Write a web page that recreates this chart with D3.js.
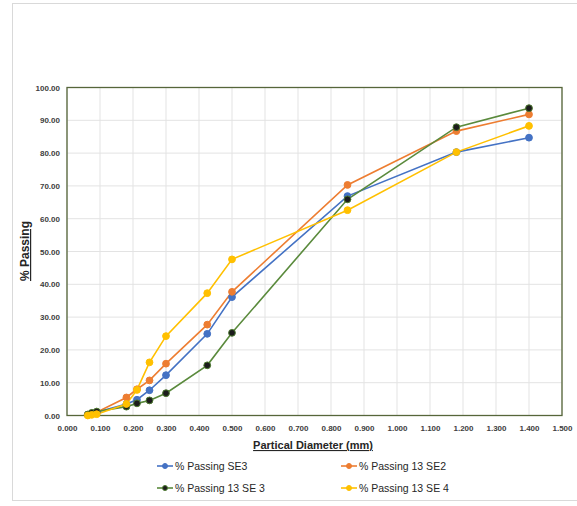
<!DOCTYPE html>
<html><head><meta charset="utf-8">
<script src="https://cdn.jsdelivr.net/npm/d3@7"></script>
<style>body{margin:0;background:#fff}svg{display:block}</style>
</head><body>
<script>
const sieveSizes = [0.063, 0.075, 0.09, 0.18, 0.212, 0.25, 0.3, 0.425, 0.5, 0.85, 1.18, 1.4];
const passingSE3 = [0.2, 0.6, 1.0, 3.5, 4.8, 7.7, 12.3, 24.9, 36.1, 66.9, 80.3, 84.7];
const passing13SE2 = [0.2, 0.6, 1.0, 5.5, 8.0, 10.7, 15.8, 27.7, 37.7, 70.3, 86.7, 91.8];
const passing13SE3 = [0.3, 0.8, 1.2, 2.7, 3.7, 4.6, 6.8, 15.3, 25.2, 65.9, 87.9, 93.7];
const passing13SE4 = [0.0, 0.2, 0.4, 3.5, 7.8, 16.2, 24.2, 37.3, 47.6, 62.6, 80.3, 88.3];
const seriesNames = ["% Passing SE3", "% Passing 13 SE2", "% Passing 13 SE 3", "% Passing 13 SE 4"];
const xTicks = [0, 0.1, 0.2, 0.3, 0.4, 0.5, 0.6, 0.7, 0.8, 0.9, 1.0, 1.1, 1.2, 1.3, 1.4, 1.5];
const yTicks = [0, 10, 20, 30, 40, 50, 60, 70, 80, 90, 100];

const W = 577, H = 506;
const svg = d3.select("body").append("svg").attr("width", W).attr("height", H);
svg.append("rect").attr("x", 12.5).attr("y", 3.5).attr("width", 600).attr("height", 497)
  .attr("fill", "#fff").attr("stroke", "#d9d9d9");

const x = d3.scaleLinear().domain([0, 1.5]).range([67, 562]);
const y = d3.scaleLinear().domain([0, 100]).range([415.5, 87.5]);

const series = [
  {name: seriesNames[0], vals: passingSE3, line: "#4472C4", fill: "#4472C4", stroke: "#4472C4"},
  {name: seriesNames[1], vals: passing13SE2, line: "#ED7D31", fill: "#ED7D31", stroke: "#ED7D31"},
  {name: seriesNames[2], vals: passing13SE3, line: "#5A8A3C", fill: "#1c1c1c", stroke: "#4d7a30"},
  {name: seriesNames[3], vals: passing13SE4, line: "#FFC000", fill: "#FFC000", stroke: "#FFC000"}
];

// gridlines
const g = svg.append("g");
g.selectAll(".vg").data(xTicks).join("line")
  .attr("x1", d => x(d)).attr("x2", d => x(d)).attr("y1", y(0)).attr("y2", y(100))
  .attr("stroke", "#e3e3e3").attr("stroke-width", 1);
g.selectAll(".hg").data(yTicks).join("line")
  .attr("y1", d => y(d)).attr("y2", d => y(d)).attr("x1", x(0)).attr("x2", x(1.5))
  .attr("stroke", "#e3e3e3").attr("stroke-width", 1);

// axes (labels only)
const fmtX = d3.format(".3f"), fmtY = d3.format(".2f");
const xAxis = svg.append("g").attr("transform", `translate(0,${y(0)})`)
  .call(d3.axisBottom(x).tickValues(xTicks).tickFormat(fmtX).tickSize(0).tickPadding(10));
const yAxis = svg.append("g").attr("transform", `translate(${x(0)},0)`)
  .call(d3.axisLeft(y).tickValues(yTicks).tickFormat(fmtY).tickSize(0).tickPadding(7));
[xAxis, yAxis].forEach(a => {
  a.select(".domain").remove();
  a.selectAll("text").attr("font-family", "Liberation Sans, Arial, sans-serif")
    .attr("font-size", "8px").attr("font-weight", "bold").attr("fill", "#404040");
});

// plot border
svg.append("rect").attr("x", x(0)).attr("y", y(100)).attr("width", x(1.5) - x(0)).attr("height", y(0) - y(100))
  .attr("fill", "none").attr("stroke", "#56663a").attr("stroke-width", 1.3);

// lines and markers
const line = d3.line().x((d, i) => x(sieveSizes[i])).y(d => y(d));
series.forEach(s => {
  svg.append("path").datum(s.vals).attr("d", line).attr("fill", "none")
    .attr("stroke", s.line).attr("stroke-width", 1.6);
});
series.forEach(s => {
  svg.append("g").selectAll("circle").data(s.vals).join("circle")
    .attr("cx", (d, i) => x(sieveSizes[i])).attr("cy", d => y(d)).attr("r", 3.4)
    .attr("fill", s.fill).attr("stroke", s.stroke).attr("stroke-width", 1);
});

// axis titles
svg.append("text").attr("x", 313).attr("y", 449).attr("text-anchor", "middle")
  .attr("font-family", "Liberation Sans, Arial, sans-serif").attr("font-size", "11px").attr("font-weight", "bold")
  .attr("text-decoration", "underline").attr("fill", "#262626").text("Partical Diameter (mm)");
svg.append("text").attr("transform", "translate(29,251) rotate(-90)").attr("text-anchor", "middle")
  .attr("font-family", "Liberation Sans, Arial, sans-serif").attr("font-size", "12px").attr("font-weight", "bold")
  .attr("text-decoration", "underline").attr("fill", "#262626").text("% Passing");

// legend
const legPos = [[157, 466], [341, 466], [157, 488], [341, 488]];
series.forEach((s, i) => {
  const [lx, ly] = legPos[i];
  const lg = svg.append("g");
  lg.append("line").attr("x1", lx).attr("x2", lx + 16).attr("y1", ly).attr("y2", ly)
    .attr("stroke", s.line).attr("stroke-width", 1.6);
  lg.append("circle").attr("cx", lx + 8).attr("cy", ly).attr("r", 2.5)
    .attr("fill", s.fill).attr("stroke", s.stroke);
  lg.append("text").attr("x", lx + 18).attr("y", ly + 4)
    .attr("font-family", "Liberation Sans, Arial, sans-serif").attr("font-size", "10.5px")
    .attr("fill", "#262626").text(s.name);
});
</script>
</body></html>
